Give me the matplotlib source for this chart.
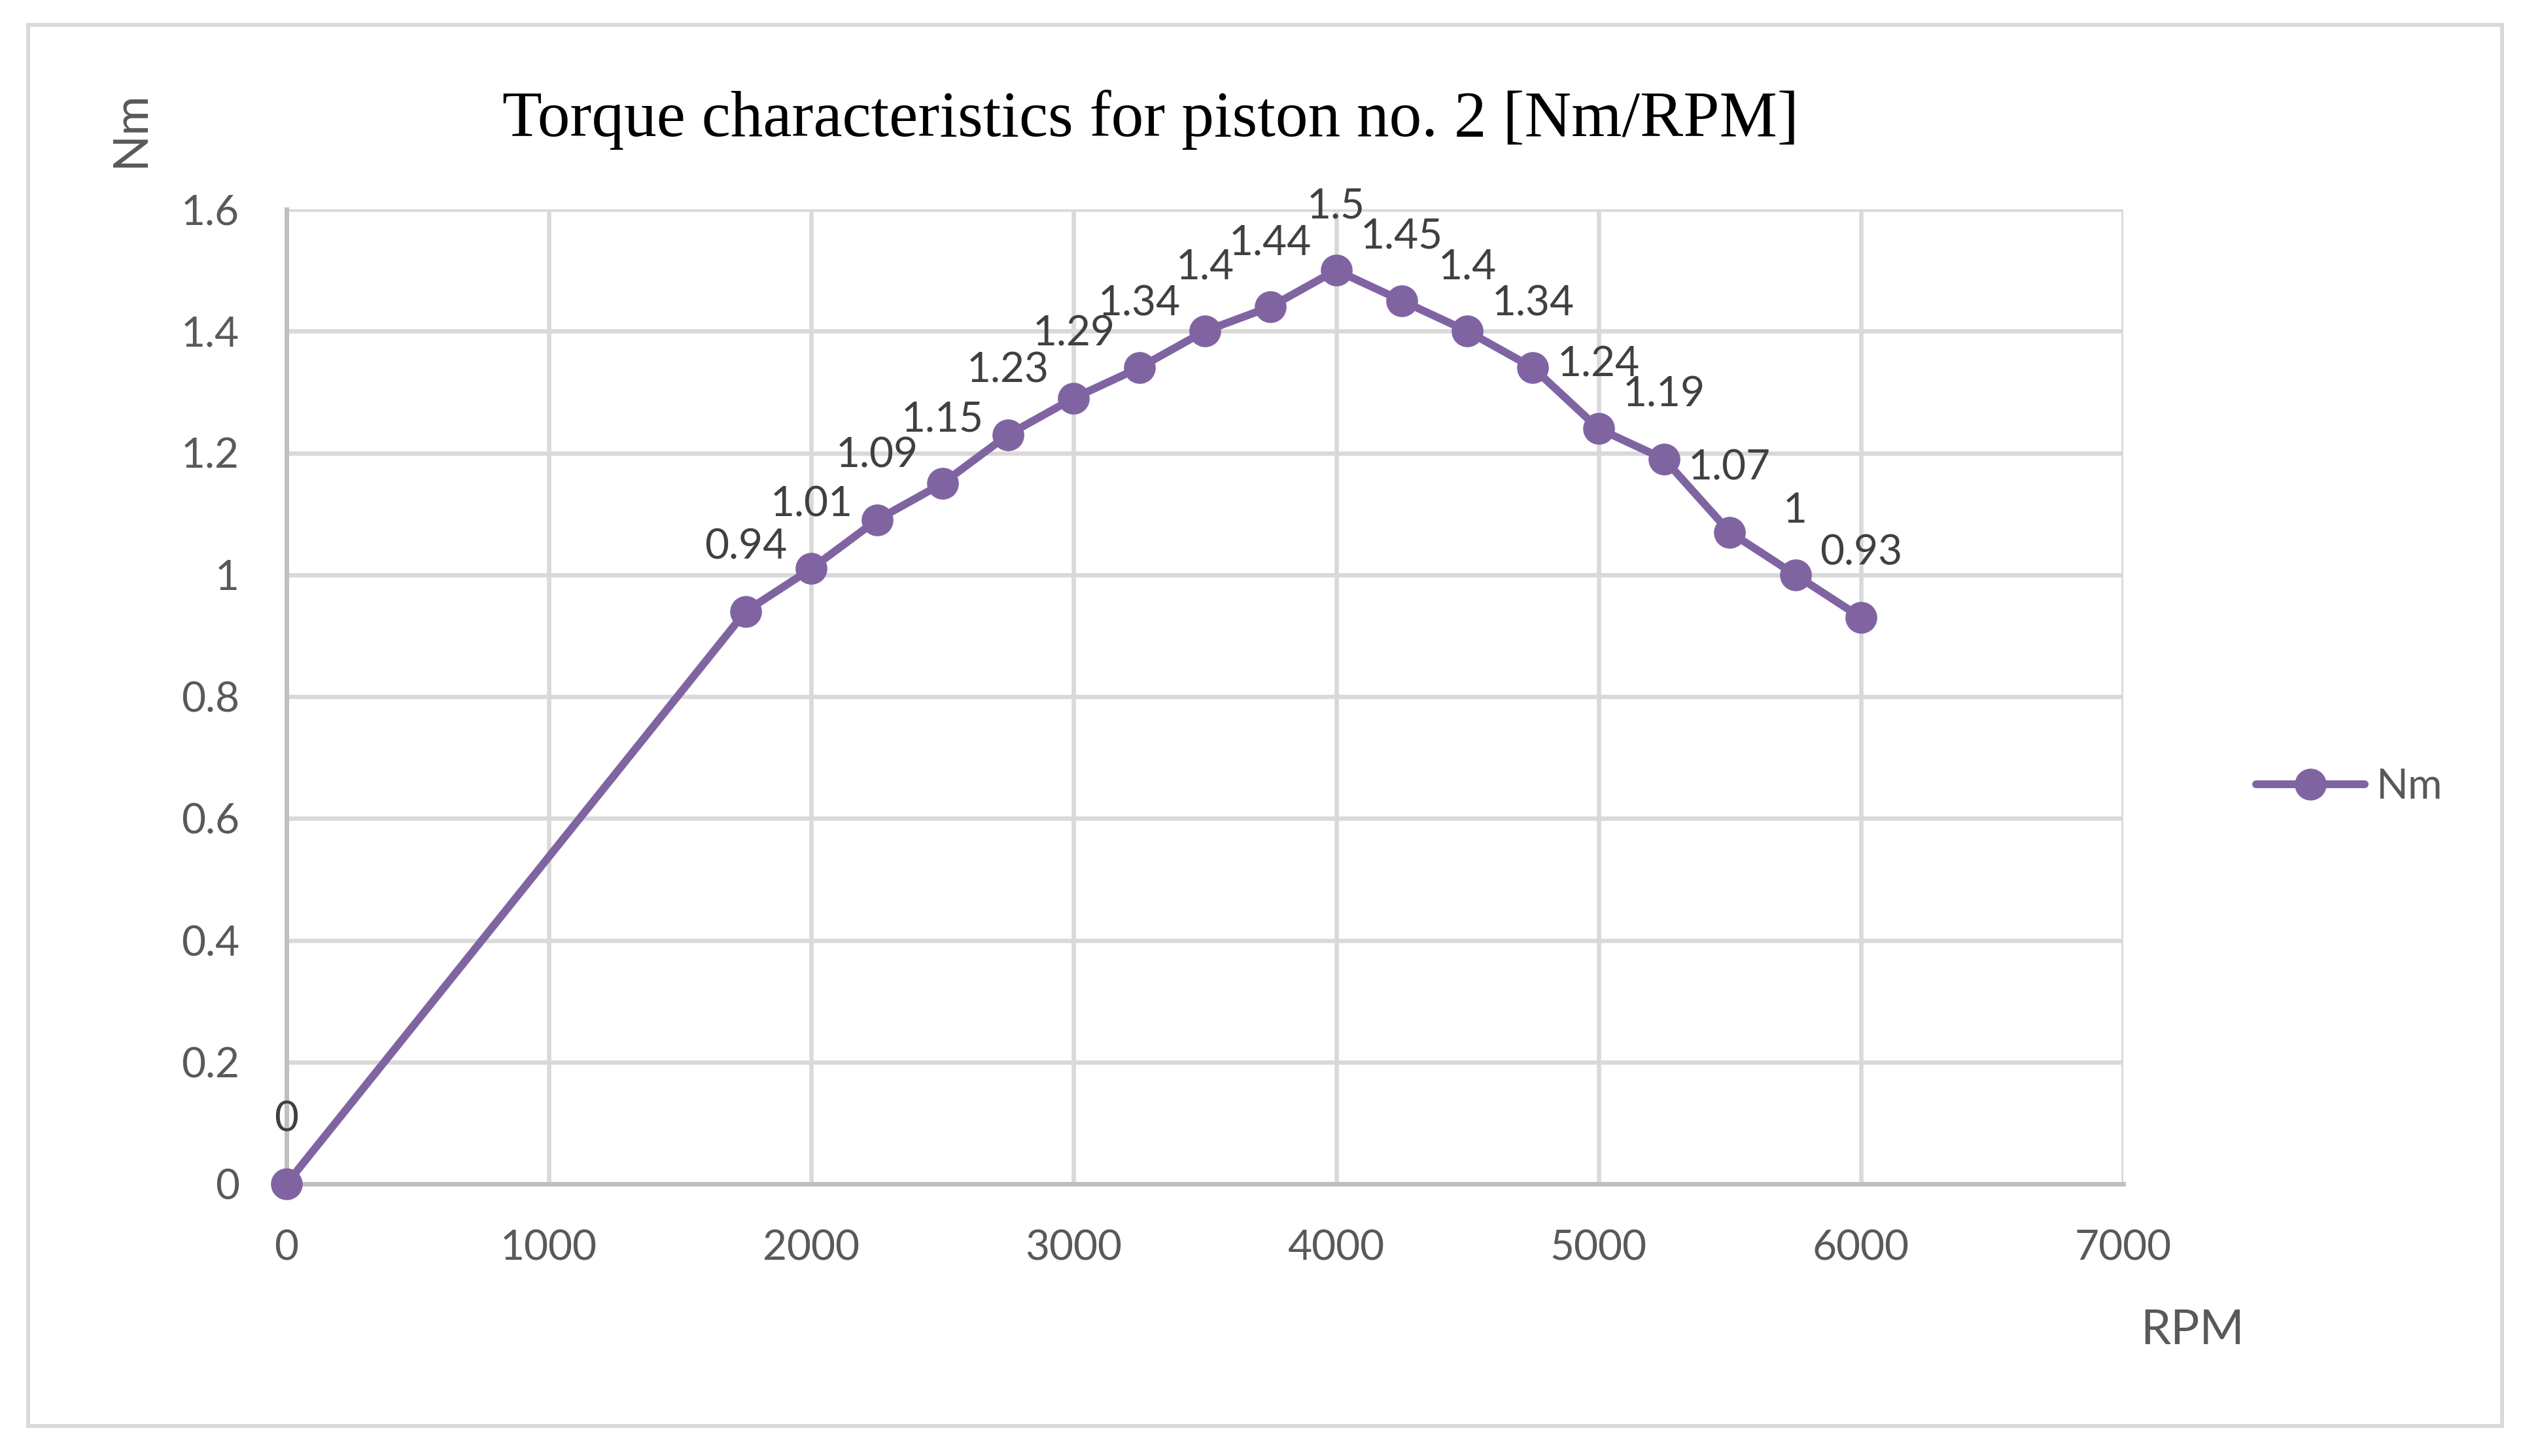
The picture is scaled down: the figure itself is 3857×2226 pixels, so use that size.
import matplotlib
matplotlib.use("Agg")
import matplotlib.pyplot as plt
from matplotlib.patches import Rectangle

# data
rpm = [0, 1750, 2000, 2250, 2500, 2750, 3000, 3250, 3500, 3750,
       4000, 4250, 4500, 4750, 5000, 5250, 5500, 5750, 6000]
torque = [0, 0.94, 1.01, 1.09, 1.15, 1.23, 1.29, 1.34, 1.4, 1.44,
          1.5, 1.45, 1.4, 1.34, 1.24, 1.19, 1.07, 1, 0.93]
x_ticks = [0, 1000, 2000, 3000, 4000, 5000, 6000, 7000]
y_ticks = [0, 0.2, 0.4, 0.6, 0.8, 1.0, 1.2, 1.4, 1.6]
y_tick_labels = ["0", "0.2", "0.4", "0.6", "0.8", "1", "1.2", "1.4", "1.6"]
series_name = "Nm"

W, H, DPI = 3857, 2226, 100
PURPLE = "#8064A2"
GRID = "#D9D9D9"
AXIS = "#BFBFBF"
TXT = "#595959"
LBL = "#404040"
SANS = ["Lato", "DejaVu Sans"]

plt.rcParams["font.family"] = SANS

fig = plt.figure(figsize=(W / DPI, H / DPI), dpi=DPI)
fig.patch.set_facecolor("white")

# chart area border
fig.add_artist(Rectangle((43 / W, 1 - 2180 / H), (3825 - 43) / W, (2180 - 38) / H,
                         transform=fig.transFigure, fill=False,
                         edgecolor=GRID, linewidth=4.3))

ax = fig.add_axes([438 / W, 1 - 1810 / H, (3246 - 438) / W, (1810 - 320) / H])

ax.plot(rpm, torque, color=PURPLE, linewidth=8.6, marker="o", markersize=34,
        markerfacecolor=PURPLE, markeredgecolor=PURPLE, label=series_name,
        clip_on=False, zorder=3, solid_capstyle="round")

for x, y in zip(rpm, torque):
    ax.annotate(f"{y:g}", (x, y), xytext=(0, 57.6), textcoords="offset points",
                ha="center", va="baseline", fontsize=46, color=LBL, zorder=4,
                annotation_clip=False)

ax.set_xlim(0, 7000)
ax.set_ylim(0, 1.6)
ax.set_xticks(x_ticks)
ax.set_yticks(y_ticks)
ax.set_yticklabels(y_tick_labels)
ax.tick_params(axis="both", length=0, labelsize=46, labelcolor=TXT)
ax.tick_params(axis="y", pad=52)
ax.tick_params(axis="x", pad=50)

ax.grid(True, color=GRID, linewidth=4.7)
ax.set_axisbelow(True)
for s in ["top", "right"]:
    ax.spines[s].set_visible(False)
for s in ["bottom", "left"]:
    ax.spines[s].set_color(AXIS)
    ax.spines[s].set_linewidth(5)

fig.text(1759 / W, 1 - 208 / H, "Torque characteristics for piston no. 2 [Nm/RPM]",
         family=["Liberation Serif", "DejaVu Serif"], fontsize=71.5, color="black",
         ha="center", va="baseline")
fig.text(200 / W, 1 - 198 / H, "Nm", rotation=90, fontsize=53, color=TXT,
         ha="center", va="center")
fig.text(3352 / W, 1 - 2055 / H, "RPM", fontsize=53, color=TXT,
         ha="center", va="baseline")

fig.legend(loc="center left", bbox_to_anchor=(3449 / W, 1 - 1203 / H),
           frameon=False, fontsize=46, labelcolor=TXT, handlelength=2.6,
           handletextpad=0.26, borderpad=0, borderaxespad=0)

fig.savefig("out.png", dpi=DPI, facecolor="white")
